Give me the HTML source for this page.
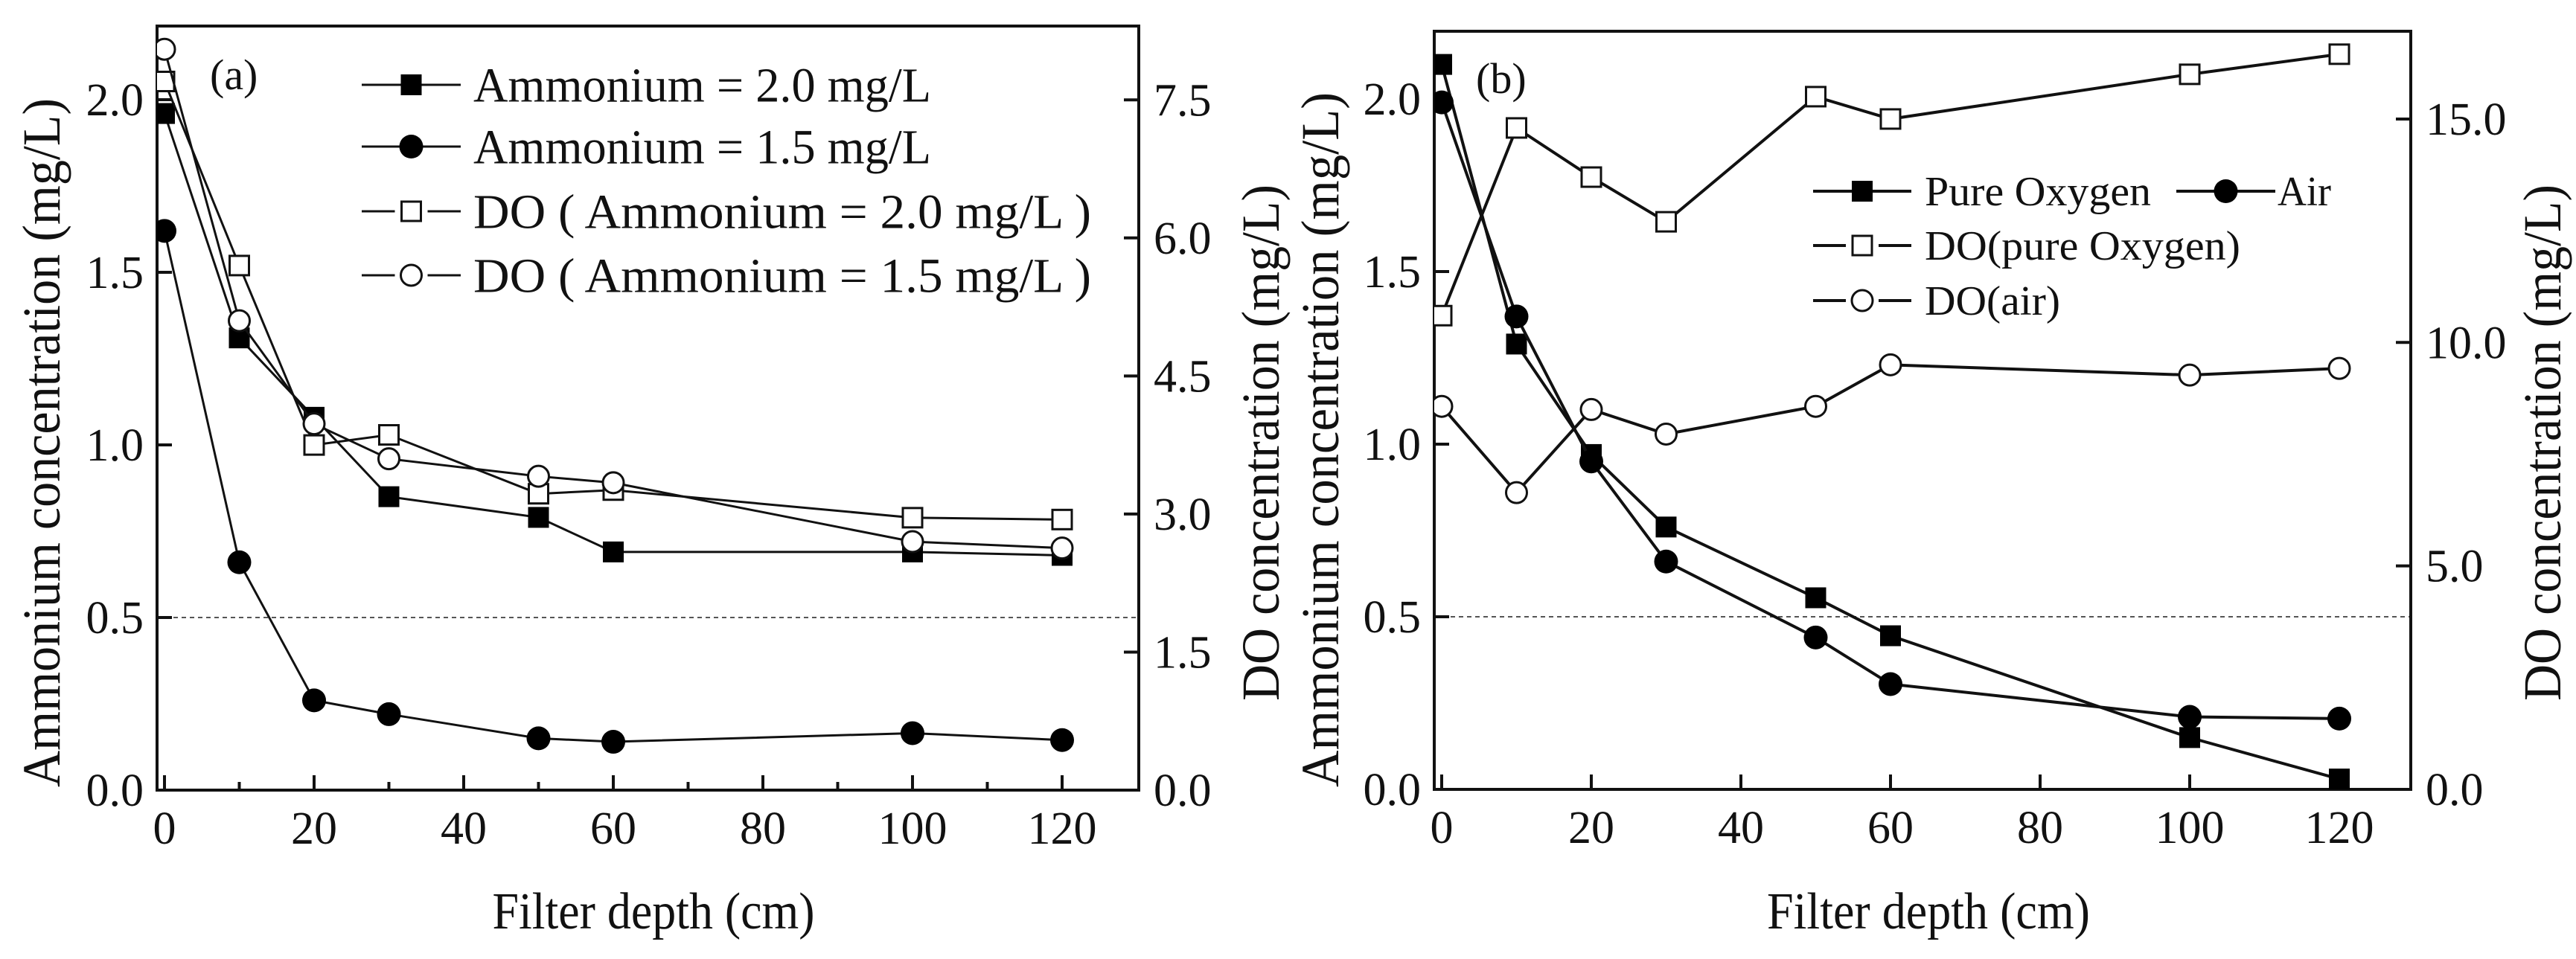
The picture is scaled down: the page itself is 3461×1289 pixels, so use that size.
<!DOCTYPE html>
<html><head><meta charset="utf-8"><style>
html,body{margin:0;padding:0;background:#fff;}
svg{display:block;font-family:"Liberation Serif","Times New Roman",serif;}
</style></head><body>
<svg id="chart" width="3461" height="1289" viewBox="0 0 3461 1289" xmlns="http://www.w3.org/2000/svg">
<defs>
<clipPath id="clipA"><rect x="211" y="35" width="1319" height="1027"/></clipPath>
<clipPath id="clipB"><rect x="1927" y="42" width="1312" height="1019"/></clipPath>
</defs>
</svg>
<script>
const depthA = [0,10,20,30,50,60,100,120];
const ammo20A = [1.96,1.31,1.08,0.85,0.79,0.69,0.69,0.68];
const ammo15A = [1.62,0.66,0.26,0.22,0.15,0.14,0.165,0.145];
const do20A = [7.7,5.7,3.75,3.86,3.22,3.26,2.96,2.94];
const do15A = [8.05,5.1,3.98,3.6,3.41,3.34,2.7,2.63];
const leftTicksA = ["0.0","0.5","1.0","1.5","2.0"];
const rightTicksA = ["0.0","1.5","3.0","4.5","6.0","7.5"];
const xTicks = ["0","20","40","60","80","100","120"];

const depthB = [0,10,20,30,50,60,100,120];
const pureB = [2.1,1.29,0.97,0.76,0.555,0.445,0.15,0.03];
const airB = [1.99,1.37,0.95,0.66,0.44,0.305,0.21,0.205];
const doPureB = [10.6,14.8,13.7,12.7,15.5,15.0,16.0,16.45];
const doAirB = [8.57,6.64,8.5,7.95,8.57,9.5,9.27,9.42];
const leftTicksB = ["0.0","0.5","1.0","1.5","2.0"];
const rightTicksB = ["0.0","5.0","10.0","15.0"];

const NS="http://www.w3.org/2000/svg";
const svg=document.getElementById('chart');
function mk(tag,attrs,parent){const e=document.createElementNS(NS,tag);for(const k in attrs)e.setAttribute(k,attrs[k]);(parent||svg).appendChild(e);return e;}

function panel(cfg){
  const g=mk('g',{});
  
  
  const L=cfg.left,R=cfg.right,T=cfg.top,B=cfg.bottom;
  const sx=v=>cfg.x0+v*cfg.pxPerCm;
  const syL=v=>B-v*cfg.pxL;
  const syR=v=>B-v*cfg.pxR;
  // dashed line
  const dl=mk('line',{x1:L,x2:R,y1:syL(0.5),y2:syL(0.5),stroke:'#555','stroke-width':2,'stroke-dasharray':'6,5'},g);
  
  
  // frame
  const fr=mk('rect',{x:L,y:T,width:R-L,height:B-T,fill:'none',stroke:'#111','stroke-width':cfg.frameW},g);
  
  
  // x ticks
  xTicks.forEach(t=>{
    const v=+t,x=sx(v);
    const tk=mk('line',{x1:x,x2:x,y1:B,y2:B-20,stroke:'#111','stroke-width':4},g);
    
    
    const tx=mk('text',{x:x,y:B+72,'font-size':62,'text-anchor':'middle',fill:'#111'},g);
    tx.textContent=t;
    
    
    if(cfg.minor && v<120){
      const m=mk('line',{x1:sx(v+10),x2:sx(v+10),y1:B,y2:B-11,stroke:'#111','stroke-width':4},g);
      
      
    }
  });
  cfg.leftTicks.forEach(t=>{
    const y=syL(+t);
    const tk=mk('line',{x1:L,x2:L+20,y1:y,y2:y,stroke:'#111','stroke-width':4},g);
    
    
    const tx=mk('text',{x:L-18,y:y+21,'font-size':62,'text-anchor':'end',fill:'#111'},g);
    tx.textContent=t;
    
    
  });
  cfg.rightTicks.forEach(t=>{
    const y=syR(+t);
    const tk=mk('line',{x1:R,x2:R-20,y1:y,y2:y,stroke:'#111','stroke-width':4},g);
    
    
    const tx=mk('text',{x:R+20,y:y+21,'font-size':62,'text-anchor':'start',fill:'#111'},g);
    tx.textContent=t;
    
    
  });
  // titles
  const xt=mk('text',{x:cfg.xTitleX,y:1248,'font-size':70,'text-anchor':'middle',fill:'#111',textLength:cfg.xTitleLen,lengthAdjust:'spacingAndGlyphs'},g);
  xt.textContent=cfg.xTitle;
  
  
  const ly=mk('text',{x:0,y:0,'font-size':72,'text-anchor':'middle',fill:'#111',transform:`translate(${cfg.lTitleX},${cfg.lTitleY}) rotate(-90)`,textLength:cfg.lTitleLen,lengthAdjust:'spacingAndGlyphs'},g);
  ly.textContent='Ammonium concentration (mg/L)';
  
  
  const ry=mk('text',{x:0,y:0,'font-size':72,'text-anchor':'middle',fill:'#111',transform:`translate(${cfg.rTitleX},${cfg.rTitleY}) rotate(-90)`,textLength:cfg.rTitleLen,lengthAdjust:'spacingAndGlyphs'},g);
  ry.textContent='DO concentration (mg/L)';
  
  
  const pl=mk('text',{x:cfg.labX,y:cfg.labY,'font-size':58,fill:'#111'},g);
  pl.textContent=cfg.label;
  
  
  // series
  const cg=mk('g',{'clip-path':`url(#${cfg.clip})`},g);
  cfg.series.forEach(s=>{
    const sy=s.axis==='L'?syL:syR;
    const pts=s.vals.map((v,i)=>[sx(cfg.depth[i]),sy(v)]);
    const ln=mk('polyline',{points:pts.map(p=>p.join(',')).join(' '),fill:'none',stroke:'#111','stroke-width':cfg.lineW},cg);
    
    
    pts.forEach(p=>{
      const m=marker(s.marker,p[0],p[1],cg);
      
      
    });
  });
  // legend
  cfg.legend.forEach(e=>{
    const lg=mk('g',{},g);
    
    
    const mid=(e.x1+e.x2)/2;
    if(e.gap){
      mk('line',{x1:e.x1,x2:mid-22,y1:e.y,y2:e.y,stroke:'#111','stroke-width':cfg.lineW},lg);
      mk('line',{x1:mid+22,x2:e.x2,y1:e.y,y2:e.y,stroke:'#111','stroke-width':cfg.lineW},lg);
    } else mk('line',{x1:e.x1,x2:e.x2,y1:e.y,y2:e.y,stroke:'#111','stroke-width':cfg.lineW},lg);
    marker(e.marker,mid,e.y,lg);
    const t=mk('text',{x:e.tx,y:e.y+e.fs*0.34,'font-size':e.fs,fill:'#111',textLength:e.tl,lengthAdjust:'spacingAndGlyphs'},lg);
    t.textContent=e.text;
  });
}
function marker(type,x,y,p){
  if(type==='fs') return mk('rect',{x:x-14,y:y-14,width:28,height:28,fill:'#000'},p);
  if(type==='fc') return mk('circle',{cx:x,cy:y,r:16,fill:'#000'},p);
  if(type==='os') return mk('rect',{x:x-13,y:y-13,width:26,height:26,fill:'#fff',stroke:'#111','stroke-width':3},p);
  return mk('circle',{cx:x,cy:y,r:14,fill:'#fff',stroke:'#111','stroke-width':3},p);
}

panel({name:'panel-a',left:211,right:1530,top:35,bottom:1062,x0:221,pxPerCm:10.05,pxL:464,pxR:123.7,
  frameW:4,lineW:3,minor:true,leftTicks:leftTicksA,rightTicks:rightTicksA,depth:depthA,clip:'clipA',
  xTitle:'Filter depth (cm)',xTitleX:878,xTitleLen:433,lTitleX:80,lTitleY:595,lTitleLen:926,
  rTitleX:1718,rTitleY:595,rTitleLen:694,label:'(a)',labX:282,labY:120,
  series:[
    {name:'ammonium-2.0',axis:'L',vals:ammo20A,marker:'fs'},
    {name:'ammonium-1.5',axis:'L',vals:ammo15A,marker:'fc'},
    {name:'do-ammonium-2.0',axis:'R',vals:do20A,marker:'os'},
    {name:'do-ammonium-1.5',axis:'R',vals:do15A,marker:'oc'}],
  legend:[
    {x1:486,x2:619,y:114,marker:'fs',text:'Ammonium = 2.0 mg/L',tx:636,tl:615,fs:66},
    {x1:486,x2:619,y:197,marker:'fc',text:'Ammonium = 1.5 mg/L',tx:636,tl:615,fs:66},
    {x1:486,x2:619,y:284,marker:'os',gap:true,text:'DO ( Ammonium = 2.0  mg/L )',tx:636,tl:830,fs:66},
    {x1:486,x2:619,y:370,marker:'oc',gap:true,text:'DO ( Ammonium = 1.5  mg/L )',tx:636,tl:830,fs:66}]
});
panel({name:'panel-b',left:1927,right:3239,top:42,bottom:1061,x0:1937,pxPerCm:10.05,pxL:464,pxR:60.07,
  frameW:4,lineW:4,minor:false,leftTicks:leftTicksB,rightTicks:rightTicksB,depth:depthB,clip:'clipB',
  xTitle:'Filter depth  (cm)',xTitleX:2591,xTitleLen:434,lTitleX:1798,lTitleY:591,lTitleLen:934,
  rTitleX:3440,rTitleY:595,rTitleLen:694,label:'(b)',labX:1983,labY:125,
  series:[
    {name:'pure-oxygen',axis:'L',vals:pureB,marker:'fs'},
    {name:'air',axis:'L',vals:airB,marker:'fc'},
    {name:'do-pure-oxygen',axis:'R',vals:doPureB,marker:'os'},
    {name:'do-air',axis:'R',vals:doAirB,marker:'oc'}],
  legend:[
    {x1:2436,x2:2568,y:257,marker:'fs',text:'Pure Oxygen',tx:2586,tl:304,fs:56},
    {x1:2924,x2:3057,y:257,marker:'fc',text:'Air',tx:3060,tl:72,fs:56},
    {x1:2436,x2:2568,y:330,marker:'os',gap:true,text:'DO(pure Oxygen)',tx:2586,tl:424,fs:56},
    {x1:2436,x2:2568,y:404,marker:'oc',gap:true,text:'DO(air)',tx:2586,tl:182,fs:56}]
});
</script>
</body></html>
